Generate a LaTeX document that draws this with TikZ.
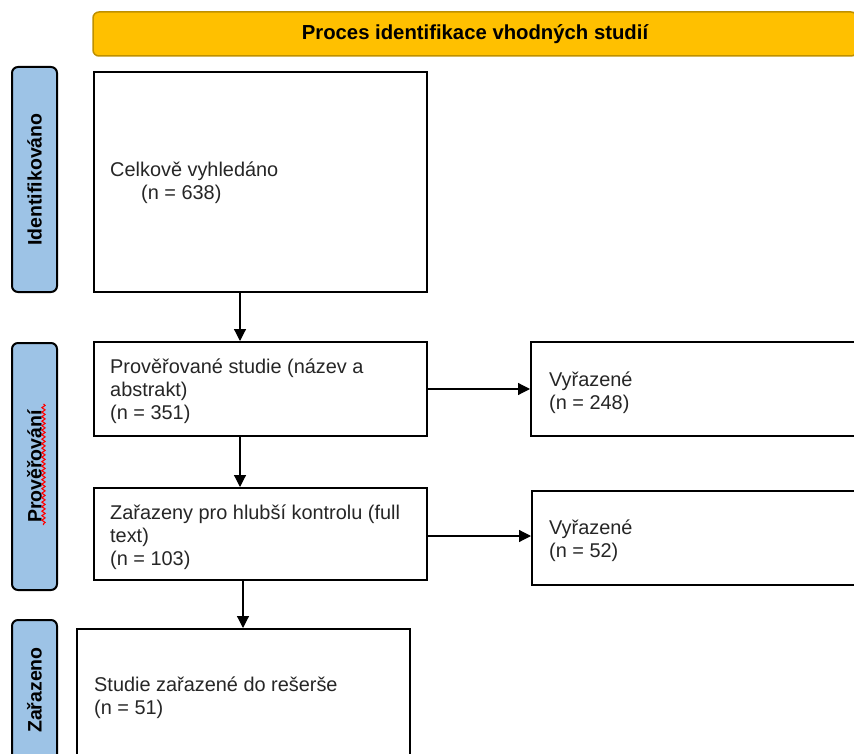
\documentclass[tikz,border=0pt]{standalone}
\usepackage{fontspec}
\setmainfont{Liberation Sans}
\usetikzlibrary{arrows.meta,decorations.pathmorphing}
\definecolor{hdrfill}{HTML}{FFC000}
\definecolor{hdrline}{HTML}{BF9000}
\definecolor{sidefill}{HTML}{9DC3E6}
\begin{document}
\begin{tikzpicture}[x=1pt,y=-1pt,
  boxstyle/.style={draw=black,line width=2pt,fill=white,anchor=north west,inner sep=0pt},
  sidestyle/.style={draw=black,line width=2pt,fill=sidefill,rounded corners=6pt,rotate=90,
    minimum height=45pt,inner sep=0pt,font=\fontsize{19.5}{22}\selectfont\bfseries},
  txt/.style={anchor=base west,inner sep=0pt,font=\fontsize{19.9}{22.5}\selectfont,text=black!85},
  arr/.style={line width=1.2pt,-{Triangle[length=12pt,width=12pt]}}]
\useasboundingbox (0,0) rectangle (854,754);

% header
\node[draw=hdrline,line width=1.5pt,fill=hdrfill,rounded corners=6pt,
  minimum width=764pt,minimum height=44pt,inner sep=0pt,
  font=\fontsize{20.3}{22}\selectfont\bfseries] (hdr) at (475,34) {Proces identifikace vhodných studií};

% side labels
\node[sidestyle,minimum width=225pt] (s1) at (34.5,179.5) {Identifikováno};
\node[sidestyle,minimum width=247pt] (s2) at (34.5,466.5) {Prověřování};
\node[sidestyle,minimum width=140pt] (s3) at (34.5,690) {Zařazeno};
\coordinate (sq1) at (43.5,404);
\coordinate (sq2) at (43.5,525);
\draw[red,line width=1.1pt,decorate,decoration={snake,amplitude=1.6pt,segment length=4.5pt}] (sq1) -- (sq2);

% boxes
\node[boxstyle,minimum width=333pt,minimum height=220pt] (b1) at (93,71) {};
\node[boxstyle,minimum width=333pt,minimum height=94pt] (b2) at (93,341) {};
\node[boxstyle,minimum width=340pt,minimum height=94pt] (b3) at (530,341) {};
\node[boxstyle,minimum width=333pt,minimum height=92pt] (b4) at (93,487) {};
\node[boxstyle,minimum width=340pt,minimum height=94pt] (b5) at (531,490) {};
\node[boxstyle,minimum width=333pt,minimum height=140pt] (b6) at (76,628) {};

% texts
\node[txt] (t1a) at (110,177) {Celkově vyhledáno};
\node[txt] (t1b) at (141,200) {(n = 638)};
\node[txt] (t2a) at (110,373) {Prověřované studie (název a};
\node[txt] (t2b) at (110,396) {abstrakt)};
\node[txt] (t2c) at (110,419) {(n = 351)};
\node[txt] (t3a) at (549,386) {Vyřazené};
\node[txt] (t3b) at (549,409) {(n = 248)};
\node[txt] (t4a) at (110,519) {Zařazeny pro hlubší kontrolu (full};
\node[txt] (t4b) at (110,542) {text)};
\node[txt] (t4c) at (110,565) {(n = 103)};
\node[txt] (t5a) at (549,534) {Vyřazené};
\node[txt] (t5b) at (549,557) {(n = 52)};
\node[txt] (t6a) at (94,691) {Studie zařazené do rešerše};
\node[txt] (t6b) at (94,714) {(n = 51)};

% connectors
\coordinate (cx1) at (240,0);
\coordinate (cx2) at (243,0);
\coordinate (cy2) at (0,536);
\draw[arr] (cx1 |- b1.south) -- (cx1 |- b2.north);
\draw[arr] (cx1 |- b2.south) -- (cx1 |- b4.north);
\draw[arr] (cx2 |- b4.south) -- (cx2 |- b6.north);
\draw[arr] (b2.east) -- (b3.west);
\draw[arr] (b4.east |- cy2) -- (b5.west |- cy2);
\end{tikzpicture}
\end{document}
